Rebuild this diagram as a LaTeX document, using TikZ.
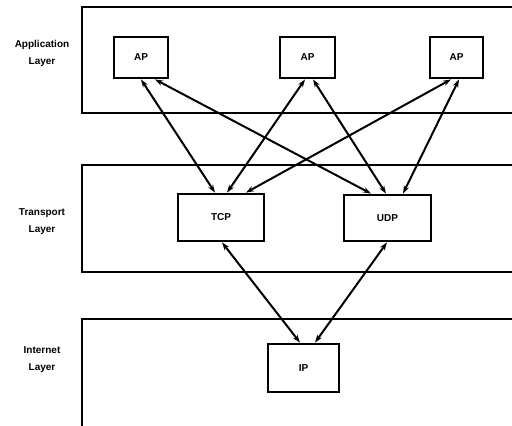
\documentclass[tikz,border=0pt]{standalone}
\usepackage{fontspec}
\setmainfont{Liberation Sans}
\usetikzlibrary{arrows.meta}
\begin{document}
\begin{tikzpicture}[x=1pt,y=-1pt,
  proto/.style={draw,line width=2.8pt,inner sep=0pt,font=\fontsize{10}{11}\selectfont\bfseries},
  layer/.style={line width=2.8pt},
  lbl/.style={align=center,font=\fontsize{10}{17}\selectfont\bfseries},
  conn/.style={line width=2pt,{Stealth[length=8pt,width=5.5pt]}-{Stealth[length=8pt,width=5.5pt]}}]
\useasboundingbox (0,0) rectangle (512,426);
\clip (0,0) rectangle (512,426);

% layer frames, open on the right
\draw[layer] (530,7) -- (82,7) -- (82,113) -- (530,113);
\draw[layer] (530,165) -- (82,165) -- (82,272) -- (530,272);
\draw[layer] (530,319) -- (82,319) -- (82,440);

% layer names
\node[lbl] (lapp) at (42,53.5) {Application\\Layer};
\node[lbl] (ltra) at (42,221.5) {Transport\\Layer};
\node[lbl] (lint) at (42,360) {Internet\\Layer};

% protocol boxes
\node[proto,minimum width=54pt,minimum height=41pt] (AP1) at (141,57.5) {AP};
\node[proto,minimum width=55pt,minimum height=41pt] (AP2) at (307.5,57.5) {AP};
\node[proto,minimum width=53pt,minimum height=41pt] (AP3) at (456.5,57.5) {AP};
\node[proto,minimum width=86pt,minimum height=47pt] (TCP) at (221,217.5) {TCP};
\node[proto,minimum width=87pt,minimum height=46pt] (UDP) at (387.5,218) {UDP};
\node[proto,minimum width=71pt,minimum height=48pt] (IP) at (303.5,368) {IP};

% connections between layers
\draw[conn] (AP1.south) -- ([xshift=-6]TCP.north);
\draw[conn] ([xshift=14]AP1.south) -- ([xshift=-16.5]UDP.north);
\draw[conn] ([xshift=-2.5]AP2.south) -- ([xshift=6]TCP.north);
\draw[conn] ([xshift=5.5]AP2.south) -- ([xshift=-1.5]UDP.north);
\draw[conn] ([xshift=-5.5]AP3.south) -- ([xshift=25]TCP.north);
\draw[conn] ([xshift=2.5]AP3.south) -- ([xshift=15.5]UDP.north);
\draw[conn] ([xshift=1]TCP.south) -- ([xshift=-3.5]IP.north);
\draw[conn] ([xshift=-0.5]UDP.south) -- ([xshift=11.5]IP.north);
\end{tikzpicture}
\end{document}
